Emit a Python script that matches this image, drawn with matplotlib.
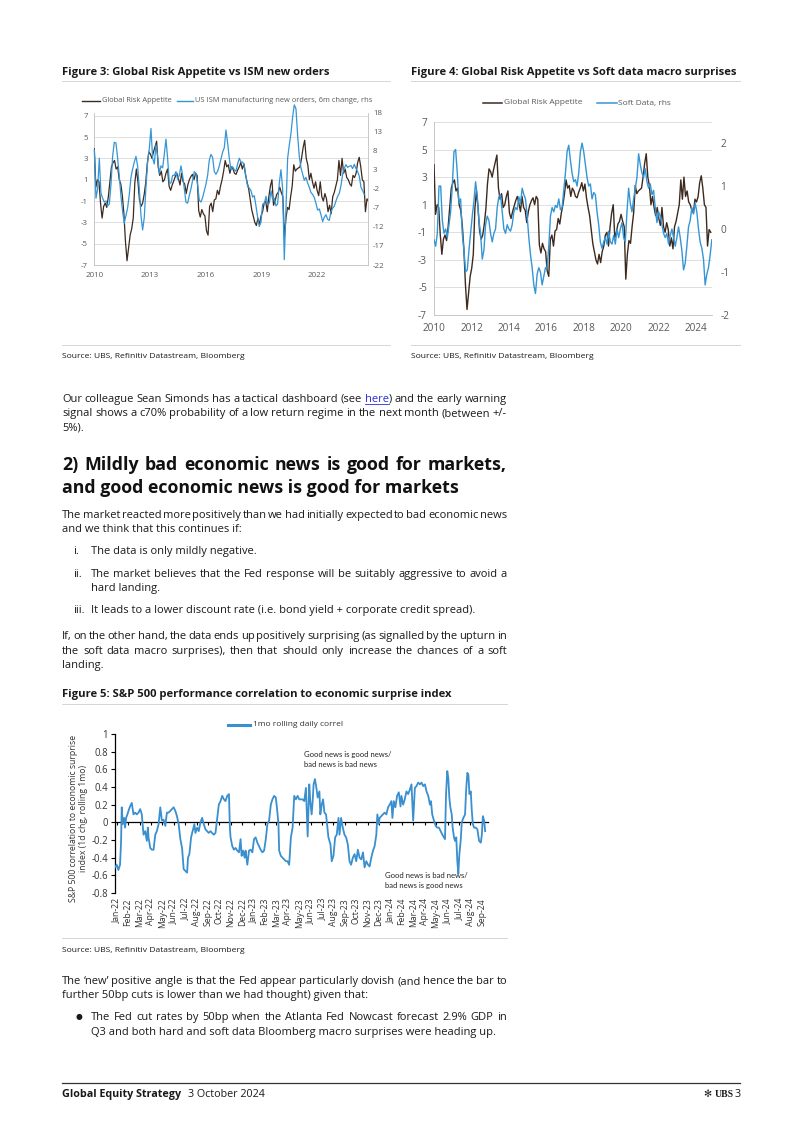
import numpy as np
import matplotlib
matplotlib.use('Agg')
import matplotlib.pyplot as plt
from matplotlib.lines import Line2D

# ---------------- data ----------------
# Global Risk Appetite (monthly, Jan 2010 - Sep 2024) - used in Figures 3 and 4
gra_start, gra_end = 2010.0, 2024.78
gra_values = [
    3.9, 0.3, 1.0, 0.8, -1.2, -2.6, -1.5, -1.2, -1.6, -0.6, 0.8, 2.2,
    2.6, 2.8, 2.0, 2.2, 1.0, 0.6, -0.5, -2.2, -4.8, -6.6, -5.4, -4.2,
    -3.6, -2.6, 0.7, 2.0, 0.8, -0.9, -1.5, -1.2, -0.4, 0.7, 2.5, 3.6,
    3.4, 3.0, 3.6, 4.1, 4.6, 2.2, 1.4, 1.8, 0.8, 1.0, 1.6, 2.0,
    0.4, 0.0, 0.5, 0.9, 1.3, 1.6, 1.1, 0.5, 1.6, 0.8, 0.6, -0.3,
    0.5, 1.0, 1.3, 1.5, 1.0, 1.6, 1.4, -1.9, -2.5, -1.8, -2.2, -2.4,
    -3.8, -4.2, -1.5, -1.2, -2.0, -0.9, -0.8, 0.0, -0.4, 0.4, 1.0, 1.8,
    2.8, 2.2, 2.4, 1.6, 2.2, 2.0, 1.6, 1.5, 1.9, 2.2, 2.6, 2.0,
    2.5, 1.5, 0.8, 0.2, -0.8, -1.8, -2.4, -3.0, -3.3, -2.6, -3.2, -2.4,
    -2.0, -1.2, -1.0, -2.0, -0.6, 0.4, 1.0, -1.4, -1.0, -0.4, -0.2, 0.3,
    -0.2, -0.6, -4.4, -2.6, -1.6, -1.8, -0.6, 0.4, 2.4, 1.8, 2.0, 2.1,
    2.2, 3.0, 4.0, 4.7, 3.0, 2.4, 1.0, 1.6, 0.8, 0.2, 0.8, 0.0,
    -0.5, 0.8, -0.6, -1.0, -0.3, -0.8, -2.0, -1.4, -2.2, -0.6, -0.2, 0.4,
    1.0, 2.8, 1.4, 3.0, 1.6, 2.0, 1.2, 1.0, 0.6, 0.4, 1.4, 1.2,
    1.6, 2.6, 3.1, 2.2, 1.0, 0.8, -2.0, -0.8, -1.0,
]

# US ISM manufacturing new orders, 6m change (monthly)
ism_start, ism_end = 2010.0, 2024.55
ism_values = [
    8.2, -4.5, -2.0, 6.0, -3.2, -4.5, -5.5, -5.2, -6.5, -6.0, -1.0, 6.5,
    10.2, 10.0, 6.0, 1.2, -4.0, -8.0, -11.0, -9.0, -7.0, -3.5, 1.0, 3.2,
    5.0, 6.5, 4.0, -2.0, -9.0, -12.8, -9.5, -1.5, 5.0, 8.5, 13.8, 6.0,
    4.5, 9.5, 6.5, 2.0, 4.0, 3.5, 7.0, 11.0, 6.0, -0.5, -0.5, 1.5,
    1.5, 2.5, 0.5, 1.5, 4.0, 1.5, -2.0, -5.5, -5.8, -3.8, -2.0, 0.2,
    2.5, 2.0, -1.0, -5.0, -5.5, -4.3, -2.5, -0.8, 1.5, 5.5, 7.0, 6.2,
    2.5, 1.8, 2.6, 4.0, 5.8, 7.6, 8.8, 13.4, 10.0, 6.0, 3.0, 3.8,
    3.0, 2.6, 4.5, 6.0, 5.0, 5.0, 4.0, 1.2, -1.5, -1.8, -2.5, -4.2,
    -3.8, -6.5, -9.5, -11.9, -10.8, -6.0, -6.0, -4.0, -6.0, -5.8, -2.5, -4.8,
    -4.5, -6.5, -6.0, -0.5, 3.0, -2.0, -20.6, -7.5, 6.0, 9.5, 12.5, 16.8,
    20.0, 19.0, 12.0, 6.5, 3.5, 1.8, 0.2, 1.0, -0.5, -1.6, -3.0, -3.5,
    -4.3, -5.8, -7.6, -7.3, -8.8, -10.6, -9.5, -8.8, -10.0, -10.3, -8.0, -7.1,
    -6.6, -5.2, -4.0, -3.2, -1.2, 1.8, 3.4, 4.3, 3.6, 3.9, 4.1, 3.3,
    4.4, 3.3, 2.5, 1.3, -1.6, -2.5, -3.5,
]

# Soft data macro surprises (rhs of Figure 4)
soft_start, soft_end = 2010.0, 2024.84
soft_values = [
    -0.25, -0.4, -0.1, 1.0, 1.0, 0.2, -0.1, 0.0, -0.2, 0.1, 0.4, 1.0,
    1.8, 1.85, 1.3, 0.6, 0.7, -0.1, -0.5, -1.0, -0.95, -0.5, -0.1, 0.3,
    0.65, 1.1, 0.76, 0.2, -0.1, -0.7, -0.5, 0.1, 0.3, 0.2, -0.1, -0.3,
    -0.1, 0.0, 0.5, 0.75, 0.8, 0.4, 0.0, -0.1, 0.1, 0.0, -0.05, 0.1,
    0.4, 0.5, 0.45, 0.75, 0.6, 0.95, 0.8, 0.7, 0.3, -0.2, -0.6, -0.9,
    -1.3, -1.5, -1.05, -0.9, -1.0, -1.3, -1.1, -0.9, -0.9, -0.4, 0.3, 0.5,
    0.4, 0.55, 0.5, 0.7, 0.45, 0.5, 0.9, 1.3, 1.8, 1.95, 1.6, 1.3,
    1.1, 1.15, 1.0, 1.3, 1.8, 2.0, 1.8, 1.5, 1.2, 1.0, 1.05, 0.7,
    0.85, 0.8, 0.4, 0.1, -0.3, -0.45, -0.3, -0.2, -0.35, -0.05, -0.3, -0.35,
    -0.15, -0.35, 0.0, -0.2, 0.0, 0.15, -0.2, -0.3, 0.4, 0.95, 0.6, 0.4,
    0.7, 0.95, 1.2, 1.75, 1.5, 1.3, 1.2, 1.4, 1.1, 0.95, 1.05, 0.8,
    0.9, 0.5, 0.15, 0.4, 0.3, 0.1, -0.1, -0.2, -0.1, -0.35, -0.15, 0.0,
    -0.2, -0.4, -0.2, 0.05, -0.2, -0.5, -0.95, -0.8, -0.4, 0.05, 0.2, 0.5,
    0.35, 0.6, 0.4, 0.0, -0.3, -0.45, -0.7, -1.3, -1.05, -0.9, -0.6, -0.25,
]

# Figure 5: S&P 500 1mo rolling daily correlation to economic surprise index
# (time in months since 1 Jan 2022)
corr_months = [
    -0.15, 0.0, 0.15, 0.29, 0.38, 0.44, 0.53, 0.65, 0.73, 0.82, 0.94, 1.03,
    1.17, 1.32, 1.47, 1.61, 1.76, 1.91, 2.06, 2.20, 2.35, 2.50, 2.64, 2.73,
    2.79, 2.94, 3.08, 3.23, 3.38, 3.52, 3.67, 3.82, 3.96, 4.11, 4.26, 4.40,
    4.55, 4.70, 4.84, 4.99, 5.14, 5.28, 5.43, 5.58, 5.73, 5.87, 6.02, 6.17,
    6.25, 6.37, 6.52, 6.66, 6.81, 6.90, 7.05, 7.19, 7.34, 7.49, 7.63, 7.78,
    7.93, 8.07, 8.22, 8.37, 8.51, 8.66, 8.81, 8.95, 9.10, 9.25, 9.40, 9.54,
    9.69, 9.84, 9.92, 9.98, 10.13, 10.28, 10.42, 10.57, 10.72, 10.86, 10.95, 11.07,
    11.22, 11.30, 11.45, 11.60, 11.74, 11.89, 12.04, 12.18, 12.33, 12.48, 12.62, 12.77,
    12.92, 13.07, 13.21, 13.36, 13.51, 13.65, 13.80, 13.95, 14.09, 14.18, 14.24, 14.39,
    14.53, 14.68, 14.83, 14.97, 15.12, 15.27, 15.42, 15.56, 15.71, 15.86, 16.00, 16.15,
    16.30, 16.44, 16.59, 16.74, 16.88, 16.97, 17.09, 17.18, 17.26, 17.38, 17.53, 17.62,
    17.77, 17.85, 17.97, 18.09, 18.21, 18.35, 18.44, 18.56, 18.74, 18.85, 19.00, 19.15,
    19.29, 19.44, 19.53, 19.67, 19.82, 19.97, 20.11, 20.26, 20.41, 20.55, 20.70, 20.85,
    21.00, 21.14, 21.29, 21.44, 21.59, 21.73, 21.88, 22.03, 22.17, 22.32, 22.47, 22.61,
    22.76, 22.85, 22.97, 23.05, 23.20, 23.35, 23.49, 23.64, 23.79, 23.93, 24.08, 24.17,
    24.29, 24.43, 24.58, 24.73, 24.88, 24.96, 25.11, 25.25, 25.40, 25.55, 25.70, 25.84,
    25.99, 26.14, 26.28, 26.43, 26.58, 26.72, 26.87, 27.02, 27.16, 27.31, 27.46, 27.55,
    27.66, 27.81, 27.96, 28.10, 28.25, 28.40, 28.55, 28.69, 28.78, 28.87, 28.98, 29.07,
    29.16, 29.25, 29.37, 29.45, 29.57, 29.66, 29.77, 29.86, 29.95, 30.04, 30.16, 30.25,
    30.39, 30.54, 30.63, 30.74, 30.83, 30.92, 31.04, 31.13, 31.22, 31.33, 31.48, 31.62,
    31.77, 31.92, 32.01, 32.10, 32.21, 32.30,
]
corr_values = [
    -0.51, -0.48, -0.54, -0.48, -0.23, 0.17, -0.02, 0.05, -0.06, 0.05, 0.09, 0.13,
    0.18, 0.22, 0.09, 0.11, 0.09, 0.11, 0.15, 0.09, -0.14, -0.10, -0.21, -0.06,
    -0.17, -0.29, -0.31, -0.31, -0.14, -0.10, -0.02, 0.17, 0.02, 0.03, -0.04, 0.11,
    0.11, 0.13, 0.15, 0.17, 0.13, 0.07, -0.02, -0.19, -0.29, -0.53, -0.55, -0.57,
    -0.40, -0.36, -0.17, -0.10, -0.02, -0.12, -0.06, -0.10, 0.00, 0.05, -0.02, -0.08,
    -0.10, -0.12, -0.10, -0.12, -0.14, -0.12, 0.05, 0.20, 0.24, 0.30, 0.26, 0.24,
    0.30, 0.32, -0.06, -0.17, -0.27, -0.31, -0.29, -0.32, -0.34, -0.19, -0.38, -0.32,
    -0.40, -0.32, -0.48, -0.32, -0.31, -0.34, -0.19, -0.17, -0.23, -0.27, -0.31, -0.34,
    -0.32, -0.19, -0.02, 0.02, 0.20, 0.26, 0.30, 0.28, 0.11, -0.02, -0.32, -0.38,
    -0.40, -0.42, -0.44, -0.44, -0.48, -0.17, -0.06, 0.30, 0.26, 0.30, 0.26, 0.26,
    0.26, 0.24, 0.39, -0.16, 0.43, 0.24, 0.09, 0.24, 0.43, 0.49, 0.37, 0.28,
    0.35, 0.09, 0.20, 0.26, 0.11, 0.09, -0.02, -0.17, -0.25, -0.44, -0.38, -0.17,
    -0.14, 0.05, -0.14, 0.05, -0.06, -0.14, -0.17, -0.25, -0.44, -0.48, -0.40, -0.36,
    -0.44, -0.31, -0.40, -0.42, -0.34, -0.51, -0.44, -0.48, -0.50, -0.40, -0.32, -0.27,
    -0.14, 0.09, -0.02, 0.05, 0.07, 0.09, 0.11, 0.09, 0.17, 0.20, 0.24, 0.05,
    0.24, 0.17, 0.30, 0.34, 0.18, 0.30, 0.20, 0.26, 0.35, 0.32, 0.37, 0.43,
    0.02, 0.39, 0.41, 0.45, 0.43, 0.45, 0.41, 0.43, 0.35, 0.30, 0.20, 0.24,
    0.09, 0.02, -0.04, -0.06, -0.06, -0.10, -0.14, -0.17, -0.19, 0.32, 0.58, 0.50,
    0.28, 0.17, 0.09, -0.06, -0.17, -0.21, -0.17, -0.44, -0.58, -0.36, -0.20, 0.00,
    0.05, 0.09, 0.36, 0.56, 0.54, 0.32, 0.35, 0.13, -0.02, -0.06, -0.06, -0.08,
    -0.21, -0.23, -0.14, 0.07, 0.02, -0.10,
]

fig3_years = [2010, 2013, 2016, 2019, 2022]
fig3_left_ticks = [-7, -5, -3, -1, 1, 3, 5, 7]
fig3_right_ticks = [-22, -17, -12, -7, -2, 3, 8, 13, 18]
fig4_years = [2010, 2012, 2014, 2016, 2018, 2020, 2022, 2024]
fig4_left_ticks = [-7, -5, -3, -1, 1, 3, 5, 7]
fig4_right_ticks = [-2, -1, 0, 1, 2]
corr_yticks = [-0.8, -0.6, -0.4, -0.2, 0.0, 0.2, 0.4, 0.6, 0.8, 1.0]
corr_ytick_labels = ['-0.8', '-0.6', '-0.4', '-0.2', '0', '0.2', '0.4', '0.6', '0.8', '1']
month_abbr = ['Jan', 'Feb', 'Mar', 'Apr', 'May', 'Jun', 'Jul', 'Aug', 'Sep', 'Oct', 'Nov', 'Dec']
corr_month_labels = [f"{month_abbr[i % 12]}-{22 + i // 12}" for i in range(33)]

# ---------------- styling ----------------
W, H = 802, 1134
BODY = 'Open Sans'
plt.rcParams['font.family'] = [BODY, 'DejaVu Sans']
BROWN = '#3d2a1f'
BLUE = '#3496d6'
BLUE5 = '#3a8fcf'
TXT = '#1a1a1a'
AXTXT = '#595959'
GRID = '#d9d9d9'
SEP = '#cfcfcf'

fig = plt.figure(figsize=(W / 100, H / 100), dpi=100)
fig.patch.set_facecolor('white')
renderer = fig.canvas.get_renderer()


def axrect(l, t, r, b):
    return [l / W, 1 - b / H, (r - l) / W, (b - t) / H]


def twidth(s, size, weight='normal', family=None):
    t = fig.text(0, 0, s, fontsize=size, fontweight=weight, family=family or BODY)
    w = t.get_window_extent(renderer=renderer).width
    t.remove()
    return w


def fit(s, width, weight='normal', family=None):
    return 10.0 * width / twidth(s, 10.0, weight, family)


def put(x, y, s, size, weight='normal', color=TXT, family=None, **kw):
    kw.setdefault('va', 'baseline')
    return fig.text(x / W, 1 - y / H, s, fontsize=size, fontweight=weight,
                    color=color, family=family or BODY, **kw)


def hline(x0, x1, y, color=SEP, lw=0.6):
    fig.add_artist(Line2D([x0 / W, x1 / W], [1 - y / H, 1 - y / H], color=color,
                          lw=lw, transform=fig.transFigure))


def jline(x0, x1, y, s, size, weight='normal', color=TXT, justify=True, link=None):
    if not justify:
        put(x0, y, s, size, weight, color)
        return
    words = s.split(' ')
    ws = [twidth(w, size, weight) for w in words]
    gap = (x1 - x0 - sum(ws)) / (len(words) - 1)
    x = x0
    for w, wd in zip(words, ws):
        if link and w.startswith(link):
            lw_ = twidth(link, size, weight)
            put(x, y, link, size, weight, '#2b2bd6')
            hline(x, x + lw_, y + 1.6, color='#2b2bd6', lw=0.6)
            put(x + lw_, y, w[len(link):], size, weight, color)
        else:
            put(x, y, w, size, weight, color)
        x += wd + gap


# ---------------- font sizes (fitted to the reference widths) ----------------
body = fit("It leads to a lower discount rate (i.e. bond yield + corporate credit spread).", 380)
head = fit("and good economic news is good for markets", 399, 'bold')
ftitle = fit("Figure 5: S&P 500 performance correlation to economic surprise index", 391, 'bold')
src = fit("Source: UBS, Refinitiv Datastream, Bloomberg", 181)
leg3 = fit("US ISM manufacturing new orders, 6m change, rhs", 177)
leg4 = fit("Global Risk Appetite", 78)
leg5 = fit("1mo rolling daily correl", 89)
tick3 = fit("2010", 18)
tick4 = fit("2010", 23)
tick5 = fit("0.8", 13.5)
xl5 = fit("Jan-22", 25)
ann = fit("Good news is good news/", 87, family='Lato')
ylab5 = fit("S&P 500 correlation to economic surprise", 167)
foot = fit("Global Equity Strategy", 120, 'bold')

# ---------------- Figure 3 ----------------
put(62, 75, "Figure 3: Global Risk Appetite vs ISM new orders", ftitle, 'bold')
hline(62, 390, 81)
hline(62, 390, 345)
put(62, 358, "Source: UBS, Refinitiv Datastream, Bloomberg", src)

ax3 = fig.add_axes(axrect(94.3, 112.5, 368, 265))
x_gra = np.linspace(gra_start, gra_end, len(gra_values))
x_ism = np.linspace(ism_start, ism_end, len(ism_values))
ax3.plot(x_gra, gra_values, color=BROWN, lw=0.9, zorder=3)
ax3.set_xlim(2010, 2024.75)
ax3.set_ylim(-7, 7.3)
ax3.set_yticks(fig3_left_ticks)
ax3.set_yticklabels([str(v) for v in fig3_left_ticks])
ax3.set_xticks(fig3_years)
ax3.set_xticklabels([str(v) for v in fig3_years])
ax3.grid(axis='y', color=GRID, lw=0.6)
ax3.set_axisbelow(True)
ax3.tick_params(length=0, labelsize=tick3, colors=AXTXT)
ax3.tick_params(axis='y', pad=4.5)
ax3.tick_params(axis='x', pad=5)
ax3.spines['top'].set_visible(False)
for sp in ['left', 'right', 'bottom']:
    ax3.spines[sp].set_color('#bfbfbf')
    ax3.spines[sp].set_linewidth(0.6)
ax3r = ax3.twinx()
ax3r.plot(x_ism, ism_values, color=BLUE, lw=0.9, clip_on=False, zorder=4)
ax3r.set_ylim(-22, 18)
ax3r.set_yticks(fig3_right_ticks)
ax3r.set_yticklabels([str(v) for v in fig3_right_ticks])
ax3r.tick_params(length=0, labelsize=tick3, colors=AXTXT, pad=3.5)
for sp in ax3r.spines.values():
    sp.set_visible(False)

# legend figure 3
fig.add_artist(Line2D([82 / W, 100 / W], [1 - 101 / H] * 2, color=BROWN, lw=1.0))
put(102, 101, "Global Risk Appetite", leg3, color=AXTXT, va='center')
fig.add_artist(Line2D([177 / W, 193 / W], [1 - 101 / H] * 2, color=BLUE, lw=1.0))
put(195, 101, "US ISM manufacturing new orders, 6m change, rhs", leg3, color=AXTXT, va='center')

# ---------------- Figure 4 ----------------
put(411, 75, "Figure 4: Global Risk Appetite vs Soft data macro surprises", ftitle, 'bold')
hline(411, 740, 81)
hline(411, 740, 345)
put(411, 358, "Source: UBS, Refinitiv Datastream, Bloomberg", src)

ax4 = fig.add_axes(axrect(434, 122, 712, 315))
x_soft = np.linspace(soft_start, soft_end, len(soft_values))
ax4.plot(x_gra, gra_values, color=BROWN, lw=1.0, zorder=3)
ax4.set_xlim(2010, 2024.85)
ax4.set_ylim(-7, 7)
ax4.set_yticks(fig4_left_ticks)
ax4.set_yticklabels([str(v) for v in fig4_left_ticks])
ax4.set_xticks(fig4_years)
ax4.set_xticklabels([str(v) for v in fig4_years])
ax4.grid(axis='y', color=GRID, lw=0.6)
ax4.set_axisbelow(True)
ax4.tick_params(length=0, labelsize=tick4, colors=AXTXT)
ax4.tick_params(axis='y', pad=5)
ax4.tick_params(axis='x', pad=6)
for sp in ['top', 'right']:
    ax4.spines[sp].set_visible(False)
for sp in ['left', 'bottom']:
    ax4.spines[sp].set_color('#bfbfbf')
    ax4.spines[sp].set_linewidth(0.6)
ax4r = ax4.twinx()
ax4r.plot(x_soft, soft_values, color=BLUE, lw=1.0, zorder=4)
ax4r.set_ylim(-2, 2.49)
ax4r.set_yticks(fig4_right_ticks)
ax4r.set_yticklabels([str(v) for v in fig4_right_ticks])
ax4r.tick_params(length=0, labelsize=tick4, colors=AXTXT, pad=6)
for sp in ax4r.spines.values():
    sp.set_visible(False)

fig.add_artist(Line2D([483 / W, 502 / W], [1 - 103 / H] * 2, color=BROWN, lw=1.1))
put(504, 103, "Global Risk Appetite", leg4, color=AXTXT, va='center')
fig.add_artist(Line2D([597 / W, 617 / W], [1 - 103 / H] * 2, color=BLUE, lw=1.1))
put(618, 103, "Soft Data, rhs", leg4, color=AXTXT, va='center')

# ---------------- body text ----------------
jline(62, 507, 402, "Our colleague Sean Simonds has a tactical dashboard (see here) and the early warning",
      body, link='here')
jline(62, 507, 416, "signal shows a c70% probability of a low return regime in the next month (between +/-", body)
jline(62, 507, 430, "5%).", body, justify=False)

jline(62, 507, 470, "2) Mildly bad economic news is good for markets,", head, 'bold', color='#111111')
jline(62, 507, 493, "and good economic news is good for markets", head, 'bold', color='#111111', justify=False)

jline(62, 507, 518, "The market reacted more positively than we had initially expected to bad economic news", body)
jline(62, 507, 532, "and we think that this continues if:", body, justify=False)
put(73, 554, "i.", body)
jline(91, 507, 554, "The data is only mildly negative.", body, justify=False)
put(73, 577, "ii.", body)
jline(91, 507, 577, "The market believes that the Fed response will be suitably aggressive to avoid a", body)
jline(91, 507, 591, "hard landing.", body, justify=False)
put(73, 613, "iii.", body)
jline(91, 507, 613, "It leads to a lower discount rate (i.e. bond yield + corporate credit spread).", body,
      justify=False)
jline(62, 507, 639, "If, on the other hand, the data ends up positively surprising (as signalled by the upturn in",
      body)
jline(62, 507, 654, "the soft data macro surprises), then that should only increase the chances of a soft", body)
jline(62, 507, 668, "landing.", body, justify=False)

# ---------------- Figure 5 ----------------
put(62, 697, "Figure 5: S&P 500 performance correlation to economic surprise index", ftitle, 'bold')
hline(62, 507, 704)
hline(62, 507, 938)
put(62, 952, "Source: UBS, Refinitiv Datastream, Bloomberg", src)

ax5 = fig.add_axes(axrect(115, 734, 488, 893))
ax5.plot(corr_months, corr_values, color=BLUE5, lw=1.3, zorder=3)
ax5.set_xlim(-0.15, 32.55)
ax5.set_ylim(-0.8, 1.0)
ax5.set_yticks(corr_yticks)
ax5.set_yticklabels(corr_ytick_labels)
ax5.tick_params(axis='y', length=3, width=0.8, color='black', labelsize=tick5, labelcolor='#333333', pad=2)
ax5.set_xticks(range(len(corr_month_labels)))
ax5.tick_params(axis='x', length=2.5, width=0.8, color='black', labelbottom=False, direction='out')
ax5.spines['bottom'].set_position(('data', 0))
ax5.spines['bottom'].set_color('black')
ax5.spines['bottom'].set_linewidth(0.9)
ax5.spines['left'].set_color('black')
ax5.spines['left'].set_linewidth(0.9)
ax5.spines['top'].set_visible(False)
ax5.spines['right'].set_visible(False)
xtr = ax5.get_xaxis_transform()
for i, lab in enumerate(corr_month_labels):
    ax5.text(i, -5.0 / 159, lab, transform=xtr, rotation=90, ha='center', va='top',
             fontsize=xl5, color='#333333')

fig.add_artist(Line2D([228 / W, 250 / W], [1 - 725 / H] * 2, color=BLUE5, lw=2.2))
put(253, 725, "1mo rolling daily correl", leg5, color='#333333', va='center')
put(304, 757, "Good news is good news/", ann, color='#222222', family='Lato')
put(304, 767, "bad news is bad news", ann, color='#222222', family='Lato')
put(385, 878, "Good news is bad news/", ann, color='#222222', family='Lato')
put(385, 888, "bad news is good news", ann, color='#222222', family='Lato')
put(73, 818, "S&P 500 correlation to economic surprise", ylab5, color='#333333',
    va='center', ha='center', rotation=90)
put(84, 818, "index (1d chg, rolling 1mo)", ylab5, color='#333333',
    va='center', ha='center', rotation=90)

# ---------------- closing text ----------------
jline(62, 507, 984,
      "The \u2018new\u2019 positive angle is that the Fed appear particularly dovish (and hence the bar to", body)
jline(62, 507, 998, "further 50bp cuts is lower than we had thought) given that:", body, justify=False)
put(76, 1019, "\u25CF", body * 0.7, family='DejaVu Sans')
jline(91, 507, 1020, "The Fed cut rates by 50bp when the Atlanta Fed Nowcast forecast 2.9% GDP in", body)
jline(91, 507, 1035, "Q3 and both hard and soft data Bloomberg macro surprises were heading up.", body,
      justify=False)

# ---------------- footer ----------------
hline(62, 740, 1082.5, color='#333333', lw=0.9)
put(62, 1097, "Global Equity Strategy", foot, 'bold')
put(188, 1097, "3 October 2024", foot)
put(711, 1097, "\u273B", foot * 0.9, family='DejaVu Sans', ha='right')
put(734, 1097, "UBS", foot * 0.9, 'bold', family='Liberation Serif', ha='right')
put(741, 1097, "3", foot, ha='right')

fig.savefig('out.png', dpi=100)
